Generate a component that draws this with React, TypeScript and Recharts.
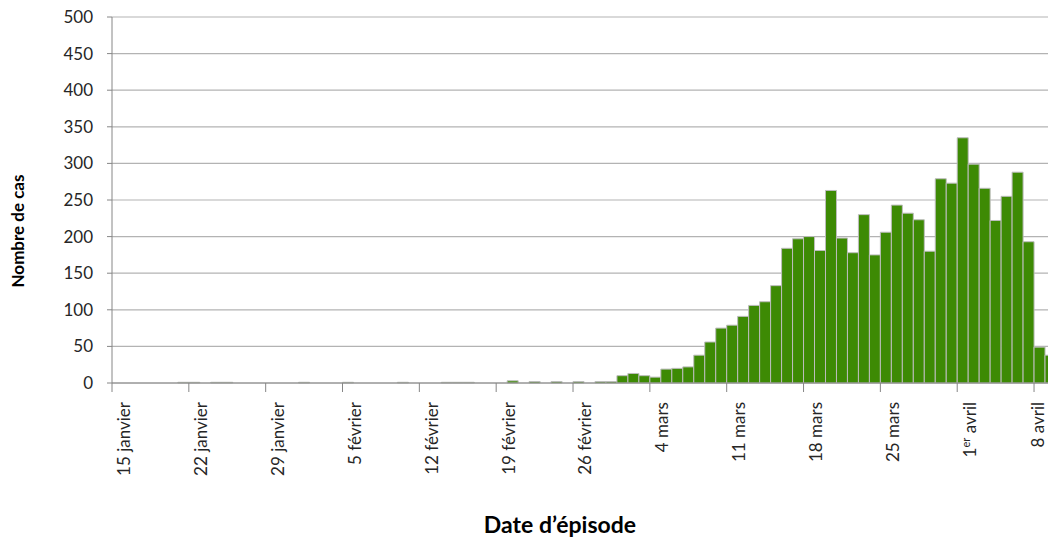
import { BarChart, Bar, XAxis, YAxis, CartesianGrid } from 'recharts';

// daily episodes, 15 janvier -> 9 avril
const monthNames = ['janvier', 'février', 'mars', 'avril'];
const monthFirstDay = [15, 1, 1, 1];
const monthLastDay = [31, 29, 31, 9];

const cases = [
	0, 0, 0, 0, 0, 0, 1, 1, 0, 1, 1, 0, 0, 0, 0, 0, 0,
	1, 0, 0, 0, 1, 0, 0, 0, 0, 1, 0, 0, 0, 1, 1, 1, 0, 0, 0, 3, 0, 2, 0, 2, 0, 2, 0, 2, 2,
	10, 13, 10, 8, 19, 20, 22, 38, 56, 75, 79, 91, 106, 111, 133, 184, 197, 200, 181, 263,
	198, 178, 230, 175, 206, 243, 232, 223, 180, 279, 273,
	335, 299, 266, 222, 255, 288, 193, 49, 38,
];

const yTicks = [0, 50, 100, 150, 200, 250, 300, 350, 400, 450, 500];

const dates: string[] = [];
monthNames.forEach((m, i) => {
	for (let d = monthFirstDay[i]; d <= monthLastDay[i]; d++) {
		dates.push(d === 1 && m === 'avril' ? '1er avril' : `${d} ${m}`);
	}
});

const data = dates.map((date, i) => ({ date, cas: cases[i] }));

const FONT = 'Lato, "Open Sans", sans-serif';
const PLOT_LEFT = 112;
const PLOT_RIGHT = 1056;
const BAND = (PLOT_RIGHT - PLOT_LEFT) / data.length;

const DateTick = (props: any) => {
	const { x, y, payload } = props;
	const left = x - BAND / 2;
	const label: string = payload.value;
	// the last label is squeezed against the page edge, like in the source
	const tx = left + (label === '8 avril' ? 4 : 12.5);
	const ty = y + 19;
	return (
		<g>
			<line x1={left} y1={y} x2={left} y2={y + 9} stroke="#868686" strokeWidth={1} />
			<text
				transform={`translate(${tx},${ty}) rotate(-90)`}
				textAnchor="end"
				dy="0.35em"
				fontFamily={FONT}
				fontSize={17}
				fill="#262626"
			>
				{label === '1er avril' ? (
					<>
						<tspan>1</tspan>
						<tspan dy={-6} fontSize={11}>er</tspan>
						<tspan dy={6}> avril</tspan>
					</>
				) : (
					label
				)}
			</text>
		</g>
	);
};

export default function App() {
	return (
		<div style={{ position: 'absolute', left: 0, top: 0, width: 1048, height: 543, overflow: 'hidden', background: '#fff' }}>
			<BarChart
				width={1062}
				height={543}
				data={data}
				margin={{ top: 17, right: 6, bottom: 0, left: 0 }}
				barCategoryGap={0}
				barGap={0}
			>
				<CartesianGrid vertical={false} stroke="#b3b3b3" strokeWidth={1.2} />
				<XAxis
					dataKey="date"
					interval={6}
					height={160}
					tickSize={0}
					tickMargin={0}
					tickLine={false}
					axisLine={{ stroke: '#868686' }}
					tick={<DateTick />}
					label={{
						content: () => (
							<text
								x={560}
								y={533}
								textAnchor="middle"
								fontFamily={FONT}
								fontWeight="bold"
								fontSize={23}
								fill="#000"
							>
								Date d’épisode
							</text>
						),
					}}
				/>
				<YAxis
					width={112}
					domain={[0, 500]}
					ticks={yTicks}
					interval={0}
					tickSize={5}
					tickMargin={14}
					axisLine={{ stroke: '#868686' }}
					tickLine={{ stroke: '#868686' }}
					tick={{ fontFamily: FONT, fontSize: 17, fill: '#262626' }}
					label={{
						content: () => (
							<text
								transform="translate(24,231) rotate(-90)"
								textAnchor="middle"
								fontFamily={FONT}
								fontWeight="bold"
								fontSize={17}
								fill="#000"
							>
								Nombre de cas
							</text>
						),
					}}
				/>
				<Bar dataKey="cas" fill="#3d8a04" stroke="#bdbdbd" strokeWidth={1} isAnimationActive={false} />
			</BarChart>
		</div>
	);
}
